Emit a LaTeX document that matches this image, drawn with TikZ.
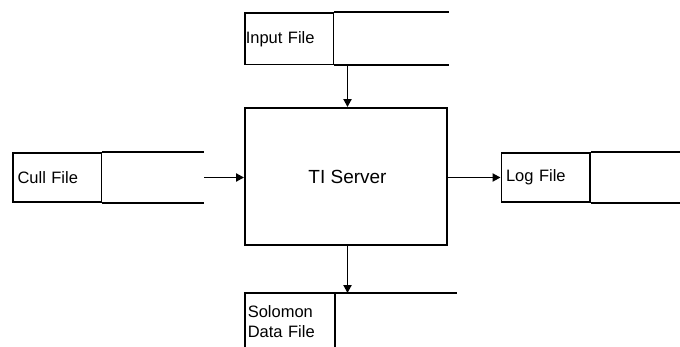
\documentclass[tikz,border=0pt]{standalone}
\usepackage{fontspec}
\setmainfont{Liberation Sans}
\usetikzlibrary{arrows.meta}
\begin{document}
\begin{tikzpicture}[x=1pt,y=1pt,
  ln/.style={line width=1.9pt},
  cell/.style={ln,draw,rectangle,anchor=center,font=\fontsize{16.5}{20}\selectfont,align=left},
  flow/.style={ln,-{Triangle[length=8pt,width=8pt]}},
  srv/.style={ln,draw,rectangle,font=\fontsize{19}{22}\selectfont}]
\useasboundingbox (0,0) rectangle (680,-347);
% server
\node[srv,minimum width=202pt,minimum height=137pt,text depth=0pt] (server) at (346,-176.5) {\hspace*{3pt}TI Server};
% input file
\node[cell,minimum width=88.5pt,minimum height=51.5pt,text width=87pt,inner xsep=0.75pt] (input) at (289.25,-38.75) {Input File};
\coordinate (inputend) at (449,0);
\draw[ln] (input.north east) -- (input.north east -| inputend);
\draw[ln] (input.south east) -- (input.south east -| inputend);
% cull file
\node[cell,minimum width=88.5pt,minimum height=49.5pt,text width=79.5pt,inner xsep=4.5pt] (cull) at (57.25,-177.5) {Cull File};
\coordinate (cullend) at (204,0);
\draw[ln] (cull.north east) -- (cull.north east -| cullend);
\draw[ln] (cull.south east) -- (cull.south east -| cullend);
% log file
\node[cell,minimum width=88.5pt,minimum height=49.5pt,text width=79.5pt,inner xsep=4.5pt] (log) at (545.75,-177.5) {Log File};
\coordinate (logend) at (681,0);
\draw[ln] (log.north east) -- (log.north east -| logend);
\draw[ln] (log.south east) -- (log.south east -| logend);
% solomon data file
\node[cell,draw=none,minimum width=88pt,minimum height=56pt,text width=84pt,inner xsep=2pt] (sol) at (289.75,-322) {Solomon\\Data File};
\coordinate (solend) at (457,0);
\coordinate (bottom) at (0,-348);
\draw[ln] (sol.north west) -- (sol.north west |- bottom);
\draw[ln] (sol.north east) -- (sol.north east |- bottom);
\draw[ln] ([xshift=-0.95pt]sol.north west) -- (sol.north west -| solend);
% connectors
\draw[flow] ([xshift=1.5pt]input.south -| server.north) -- ([xshift=1.5pt]server.north);
\draw[flow] ([xshift=1.5pt]server.south) -- ([xshift=1.5pt]server.south |- sol.north);
\draw[flow] (cullend |- cull.east) -- (server.west |- cull.east);
\draw[flow] (server.east |- log.west) -- (log.west);
\end{tikzpicture}
\end{document}
